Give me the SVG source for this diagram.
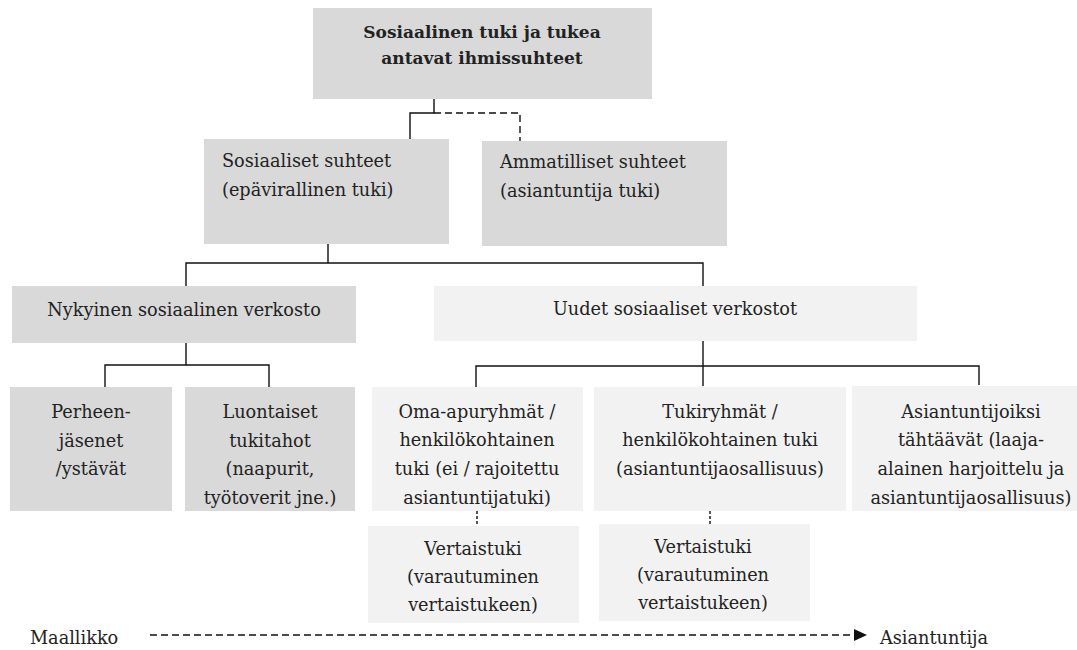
<svg xmlns="http://www.w3.org/2000/svg" width="1077" height="650" viewBox="0 0 1077 650">
<style>
.dk{fill:#d9d9d9}
.lt{fill:#f2f2f2}
text{font-family:"DejaVu Serif","Liberation Serif",serif;font-size:17.7px;fill:#222}
.c{text-anchor:middle}
.b{font-weight:bold;font-size:17px}
.ln{fill:none;stroke:#111;stroke-width:1.4}
.ds{stroke-dasharray:7 4}
.dt{stroke-dasharray:3 2}
</style>
<defs>
<clipPath id="cpL"><rect x="185" y="387" width="170" height="121"/></clipPath>
<clipPath id="cpO"><rect x="372" y="387" width="211" height="121"/></clipPath>
<clipPath id="cpA"><rect x="852" y="386" width="225" height="122"/></clipPath>
<clipPath id="cpV1"><rect x="368" y="526" width="211" height="94"/></clipPath>
<clipPath id="cpV2"><rect x="599" y="524" width="211" height="94"/></clipPath>
</defs>
<rect width="1077" height="650" fill="#fff"/>
<g id="connectors">
<path class="ln" d="M434,99 V113 H410 V141"/>
<path class="ln ds" d="M434,113 H520 V143"/>
<path class="ln" d="M328,244 V263"/>
<path class="ln" d="M186,286 V263 H703 V288"/>
<path class="ln" d="M186,343 V365"/>
<path class="ln" d="M105,388 V365 H269 V388"/>
<path class="ln" d="M703,341 V386"/>
<path class="ln" d="M476,389 V366 H979 V385"/>
<path class="ln dt" d="M477,511 V525"/>
<path class="ln dt" d="M710,511 V524"/>
<path class="ln ds" d="M150,635 H855"/>
<polygon points="854,629 867,635 854,641" fill="#111"/>
</g>
<g id="n-top">
<rect class="dk" x="313" y="8" width="339" height="91"/>
<text class="c b" x="482" y="38">Sosiaalinen tuki ja tukea</text>
<text class="c b" x="482" y="64">antavat ihmissuhteet</text>
</g>
<g id="n-sosiaaliset">
<rect class="dk" x="204" y="139" width="245" height="105"/>
<text x="222" y="167">Sosiaaliset suhteet</text>
<text x="222" y="196">(epävirallinen tuki)</text>
</g>
<g id="n-ammatilliset">
<rect class="dk" x="482" y="141" width="245" height="105"/>
<text x="500" y="168">Ammatilliset suhteet</text>
<text x="500" y="197">(asiantuntija tuki)</text>
</g>
<g id="n-nykyinen">
<rect class="dk" x="12" y="286" width="344" height="57"/>
<text class="c" x="184" y="316">Nykyinen sosiaalinen verkosto</text>
</g>
<g id="n-uudet">
<rect class="lt" x="434" y="286" width="483" height="55"/>
<text class="c" x="675" y="315">Uudet sosiaaliset verkostot</text>
</g>
<g id="n-perhe">
<rect class="dk" x="10" y="387" width="162" height="124"/>
<text class="c" x="91" y="418">Perheen-</text>
<text class="c" x="91" y="447">jäsenet</text>
<text class="c" x="91" y="475">/ystävät</text>
</g>
<g id="n-luontaiset">
<rect class="dk" x="185" y="387" width="170" height="124"/>
<g clip-path="url(#cpL)">
<text class="c" x="270" y="418">Luontaiset</text>
<text class="c" x="270" y="447">tukitahot</text>
<text class="c" x="270" y="475">(naapurit,</text>
<text class="c" x="270" y="504">työtoverit jne.)</text>
</g>
</g>
<g id="n-oma">
<rect class="lt" x="372" y="387" width="211" height="124"/>
<g clip-path="url(#cpO)">
<text class="c" x="477" y="418">Oma-apuryhmät /</text>
<text class="c" x="477" y="446">henkilökohtainen</text>
<text class="c" x="477" y="475">tuki (ei / rajoitettu</text>
<text class="c" x="477" y="504">asiantuntijatuki)</text>
</g>
</g>
<g id="n-tuki">
<rect class="lt" x="594" y="387" width="252" height="124"/>
<text class="c" x="720" y="418">Tukiryhmät /</text>
<text class="c" x="720" y="446">henkilökohtainen tuki</text>
<text class="c" x="720" y="475">(asiantuntijaosallisuus)</text>
</g>
<g id="n-asiantuntijoiksi">
<rect class="lt" x="852" y="386" width="225" height="125"/>
<g clip-path="url(#cpA)">
<text class="c" x="971" y="418">Asiantuntijoiksi</text>
<text class="c" x="971" y="446">tähtäävät (laaja-</text>
<text class="c" x="971" y="475">alainen harjoittelu ja</text>
<text class="c" x="971" y="504">asiantuntijaosallisuus)</text>
</g>
</g>
<g id="n-vertais1">
<rect class="lt" x="368" y="526" width="211" height="97"/>
<g clip-path="url(#cpV1)">
<text class="c" x="473" y="555">Vertaistuki</text>
<text class="c" x="473" y="583">(varautuminen</text>
<text class="c" x="473" y="611">vertaistukeen)</text>
</g>
</g>
<g id="n-vertais2">
<rect class="lt" x="599" y="524" width="211" height="97"/>
<g clip-path="url(#cpV2)">
<text class="c" x="703" y="553">Vertaistuki</text>
<text class="c" x="703" y="581">(varautuminen</text>
<text class="c" x="703" y="609">vertaistukeen)</text>
</g>
</g>
<g id="n-maallikko">
<text x="30" y="644">Maallikko</text>
</g>
<g id="n-asiantuntija">
<text x="880" y="644">Asiantuntija</text>
</g>
</svg>
